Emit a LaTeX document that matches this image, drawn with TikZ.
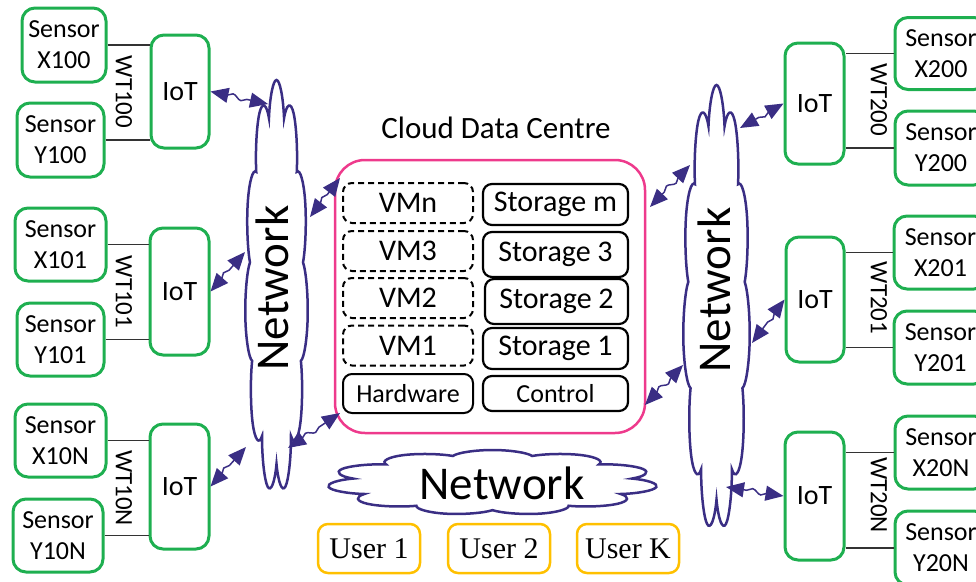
\documentclass[tikz,border=0pt]{standalone}
\usepackage{fontspec}
\setmainfont{Carlito}
\newfontfamily\userfont{Liberation Serif}
\usetikzlibrary{shapes.symbols,arrows.meta,decorations.pathmorphing}
\definecolor{gr}{RGB}{30,175,80}
\definecolor{pk}{RGB}{238,58,140}
\definecolor{pur}{RGB}{58,46,132}
\definecolor{org}{RGB}{255,192,0}
\begin{document}
\begin{tikzpicture}[x=1pt,y=-1pt,
  sensor/.style={draw=gr,line width=3pt,rounded corners=13pt,inner sep=0pt,align=center,font=\fontsize{26}{31}\selectfont},
  iot/.style={sensor,font=\fontsize{28}{32}\selectfont},
  wt/.style={rotate=-90,inner sep=0pt,font=\fontsize{25}{28}\selectfont},
  vm/.style={draw,line width=2pt,dash pattern=on 6pt off 4pt,rounded corners=9pt,inner sep=0pt,minimum width=130pt,minimum height=40pt,font=\fontsize{30}{32}\selectfont},
  store/.style={draw,line width=2.2pt,rounded corners=9pt,inner sep=0pt,minimum width=145pt,font=\fontsize{30}{32}\selectfont},
  user/.style={draw=org,line width=2.5pt,rounded corners=10pt,inner sep=0pt,minimum width=102pt,minimum height=49pt,font=\userfont\fontsize{30}{32}\selectfont},
  link/.style={line width=1.3pt,draw=black!80},
  netcloud/.style={cloud,draw=pur,line width=2.5pt,aspect=1,minimum width=100pt,minimum height=100pt,inner sep=0pt},
  nettext/.style={inner sep=0pt,font=\fontsize{47}{50}\selectfont},
  arr/.style={draw=pur,line width=1.5pt,{Triangle[length=18pt,width=15pt]}-{Triangle[length=18pt,width=15pt]},
    decorate,decoration={snake,amplitude=2.5pt,segment length=18pt,pre length=17pt,post length=17pt}}
]
\useasboundingbox (0,0) rectangle (976,581);
\clip (0,0) rectangle (976,581);

% clouds
\node[netcloud,cloud puffs=11,xscale=0.63,yscale=4.15] (lc) at (276.5,287.5) {};
\node[nettext,rotate=90] (lct) at (272,288) {Network};
\node[netcloud,cloud puffs=11,xscale=0.67,yscale=4.48] (rc) at (716.5,309) {};
\node[nettext,rotate=90] (rct) at (714,290) {Network};
\node[netcloud,cloud puffs=11,xscale=3.31,yscale=0.65] (bc) at (492.5,482.5) {};
\node[nettext] (bct) at (502,483) {Network};

% left sensors
\node[sensor,minimum width=84pt,minimum height=74pt] (sx100) at (64,45) {Sensor\\X100};
\node[sensor,minimum width=87pt,minimum height=74pt] (sy100) at (60.5,140) {Sensor\\Y100};
\node[iot,minimum width=58pt,minimum height=113pt] (iot1) at (180,91.5) {IoT};
\node[sensor,minimum width=91pt,minimum height=73pt] (sx101) at (60.5,244.5) {Sensor\\X101};
\node[sensor,minimum width=87pt,minimum height=73pt] (sy101) at (60.5,339.5) {Sensor\\Y101};
\node[iot,minimum width=59pt,minimum height=127pt] (iot2) at (179.5,291.5) {IoT};
\node[sensor,minimum width=91pt,minimum height=73pt] (sx10N) at (60.5,440.5) {Sensor\\X10N};
\node[sensor,minimum width=90pt,minimum height=73pt] (sy10N) at (58,535.5) {Sensor\\Y10N};
\node[iot,minimum width=59pt,minimum height=125pt] (iot3) at (179.5,486.5) {IoT};

\draw[link] (sx100.east) -- (sx100.east -| iot1.west);
\draw[link] (sy100.east) -- (sy100.east -| iot1.west);
\draw[link] (sx101.east) -- (sx101.east -| iot2.west);
\draw[link] (sy101.east) -- (sy101.east -| iot2.west);
\draw[link] (sx10N.east) -- (sx10N.east -| iot3.west);
\draw[link] (sy10N.east) -- (sy10N.east -| iot3.west);
\node[wt] (wt100) at (124,92) {WT100};
\node[wt] (wt101) at (124,292) {WT101};
\node[wt] (wt10N) at (124,488) {WT10N};

% right sensors
\node[iot,minimum width=59pt,minimum height=121pt] (iot4) at (814.5,103.5) {IoT};
\node[sensor,minimum width=92pt,minimum height=72pt] (sx200) at (941,53.5) {Sensor\\X200};
\node[sensor,minimum width=92pt,minimum height=74pt] (sy200) at (941,148) {Sensor\\Y200};
\node[iot,minimum width=58pt,minimum height=125pt] (iot5) at (815,299.5) {IoT};
\node[sensor,minimum width=93pt,minimum height=73pt] (sx201) at (940.5,252.5) {Sensor\\X201};
\node[sensor,minimum width=93pt,minimum height=73pt] (sy201) at (940.5,347.5) {Sensor\\Y201};
\node[iot,minimum width=59pt,minimum height=128pt] (iot6) at (814.5,496) {IoT};
\node[sensor,minimum width=92pt,minimum height=73pt] (sx20N) at (941,452.5) {Sensor\\X20N};
\node[sensor,minimum width=92pt,minimum height=74pt] (sy20N) at (941,548) {Sensor\\Y20N};

\draw[link] (sx200.west) -- (sx200.west -| iot4.east);
\draw[link] (sy200.west) -- (sy200.west -| iot4.east);
\draw[link] (sx201.west) -- (sx201.west -| iot5.east);
\draw[link] (sy201.west) -- (sy201.west -| iot5.east);
\draw[link] (sx20N.west) -- (sx20N.west -| iot6.east);
\draw[link] (sy20N.west) -- (sy20N.west -| iot6.east);
\node[wt] (wt200) at (879,100) {WT200};
\node[wt] (wt201) at (879,298) {WT201};
\node[wt] (wt20N) at (879,495) {WT20N};

% data centre
\node[font=\fontsize{31}{34}\selectfont,inner sep=0pt] (title) at (496,128) {Cloud Data Centre};
\node[draw=pk,line width=2.5pt,rounded corners=30pt,minimum width=310pt,minimum height=273pt,inner sep=0pt] (dc) at (490,296.5) {};
\node[vm] (vmn) at (408,203) {VMn};
\node[vm] (vm3) at (408,251) {VM3};
\node[vm] (vm2) at (408,298) {VM2};
\node[vm] (vm1) at (408,345.5) {VM1};
\node[vm,dash pattern=,solid,font=\fontsize{26}{28}\selectfont,minimum height=39pt] (hw) at (408,393.5) {Hardware};
\node[store,minimum height=41pt] (stm) at (555.5,204.5) {Storage m};
\node[store,minimum height=45pt] (st3) at (555.5,254.5) {Storage 3};
\node[store,minimum height=45pt,minimum width=143pt] (st2) at (556.5,301.5) {Storage 2};
\node[store,minimum height=41pt] (st1) at (555.5,348.5) {Storage 1};
\node[store,minimum height=35pt,font=\fontsize{26}{28}\selectfont] (ctl) at (555.5,393.5) {Control};

% users
\node[user] (u1) at (369,548.5) {User 1};
\node[user] (u2) at (499,548.5) {User 2};
\node[user] (uk) at (628,548.5) {User K};

% connector end points
\coordinate (lc1) at (268,104);
\coordinate (lc2) at (245,252);
\coordinate (lc3) at (246,447);
\coordinate (lc4) at (310,217);
\coordinate (lc5) at (288,448);
\coordinate (dc1) at (340,178);
\coordinate (dc2) at (340,413);
\coordinate (dc3) at (650,207);
\coordinate (dc4) at (645,405);
\coordinate (rc1) at (690,165);
\coordinate (rc2) at (683,365);
\coordinate (rc3) at (740,128);
\coordinate (rc4) at (752,343);
\coordinate (rc5) at (726,487);

\draw[arr] (iot1.east) -- (lc1);
\draw[arr] (iot2.east) -- (lc2);
\draw[arr] (iot3.east) -- (lc3);
\draw[arr] (lc4) -- (dc1);
\draw[arr] (lc5) -- (dc2);
\draw[arr] (rc1) -- (dc3);
\draw[arr] (dc4) -- (rc2);
\draw[arr] (iot4.west) -- (rc3);
\draw[arr] (iot5.west) -- (rc4);
\draw[arr] (iot6.west) -- (rc5);
\end{tikzpicture}
\end{document}
